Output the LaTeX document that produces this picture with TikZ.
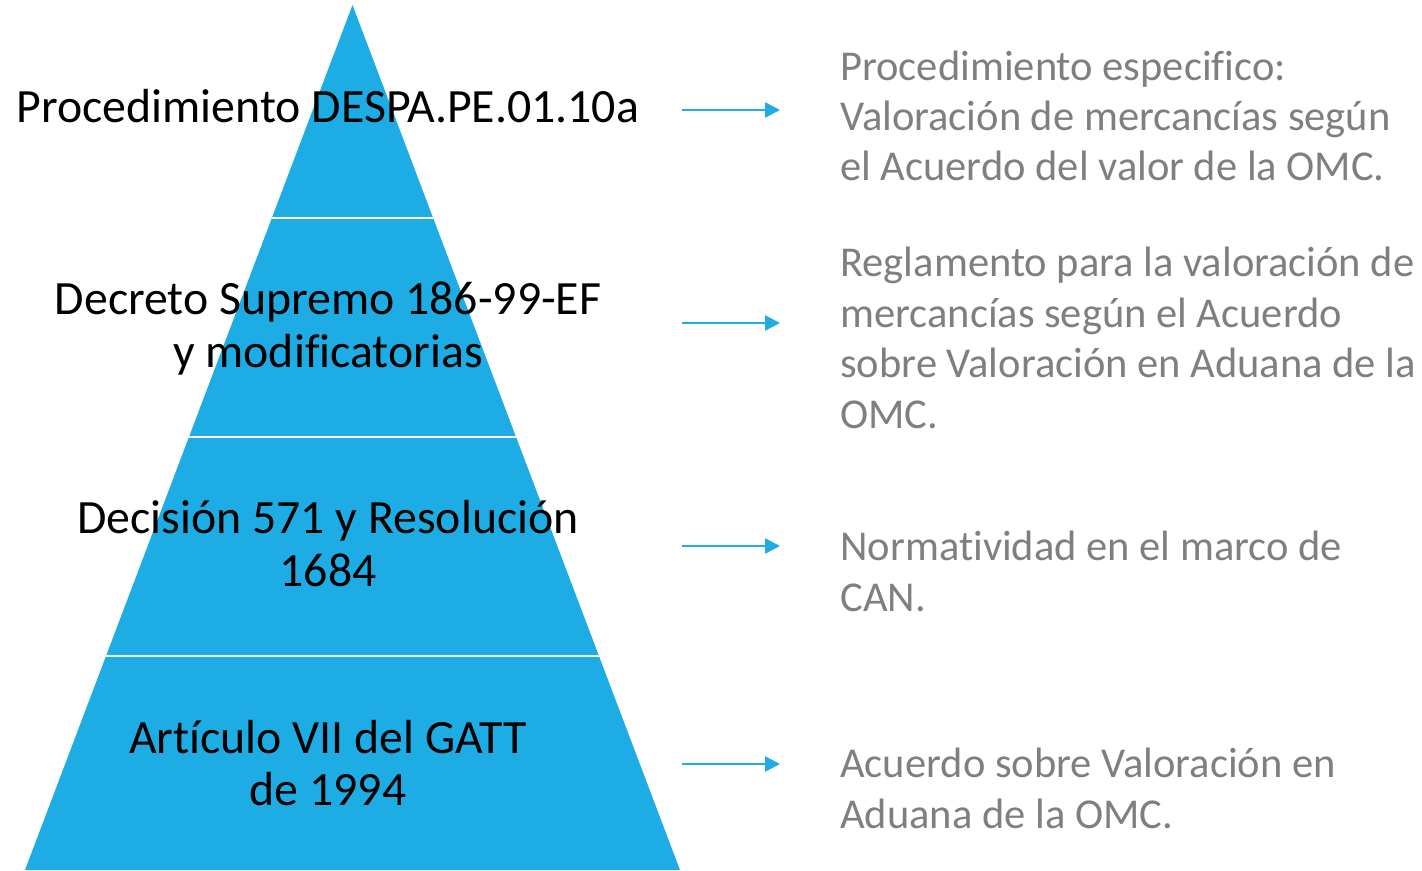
\documentclass[tikz,border=0pt]{standalone}
\usepackage{fontspec}
\setmainfont{Carlito}[Ligatures=NoCommon]
\usetikzlibrary{arrows.meta}
\definecolor{pyrblue}{RGB}{29,172,227}
\definecolor{notegray}{RGB}{127,127,127}
\begin{document}
\begin{tikzpicture}[x=0.02cm,y=-0.02cm,
    level/.style={anchor=base,align=center,inner sep=0pt,text=black,
      font=\fontsize{27.2}{29.6}\selectfont},
    note/.style={anchor=base west,align=left,inner sep=0pt,text=notegray,
      font=\fontsize{24.2}{28.7}\selectfont},
    link/.style={pyrblue,line width=1.4pt,-{Triangle[length=8.5pt,width=8.5pt]}}]
  \useasboundingbox (0,0) rectangle (1422,871);

  % pyramid and its bands
  \fill[pyrblue] (352.5,5) -- (680,870) -- (25,870) -- cycle;
  \begin{scope}
    \clip (352.5,5) -- (680,870) -- (25,870) -- cycle;
    \draw[white,line width=1.4pt] (0,218) -- (700,218);
    \draw[white,line width=1.4pt] (0,437) -- (700,437);
    \draw[white,line width=1.4pt] (0,656) -- (700,656);
  \end{scope}

  % levels (anchored at the baseline of the last line)
  \node[level] (l1) at (328,123) {Procedimiento DESPA.PE.01.10a};
  \node[level] (l2) at (328,367) {Decreto Supremo 186-99-EF\\y modificatorias};
  \node[level] (l3) at (328,586) {Decisión 571 y Resolución\\1684};
  \node[level] (l4) at (328,805) {Artículo VII del GATT\\de 1994};

  % notes
  \node[note] (n1) at (840,181) {Procedimiento especifico:\\Valoración de mercancías según\\el Acuerdo del valor de la OMC.};
  \node[note] (n2) at (840,428) {Reglamento para la valoración de\\mercancías según el Acuerdo\\sobre Valoración en Aduana de la\\OMC.};
  \node[note] (n3) at (840,611) {Normatividad en el marco de\\CAN.};
  \node[note] (n4) at (840,828) {Acuerdo sobre Valoración en\\Aduana de la OMC.};

  % arrows
  \coordinate (a1) at (682,110);  \coordinate (b1) at (780,110);
  \coordinate (a2) at (682,323);  \coordinate (b2) at (780,323);
  \coordinate (a3) at (682,546);  \coordinate (b3) at (780,546);
  \coordinate (a4) at (682,764);  \coordinate (b4) at (780,764);
  \draw[link] (a1) -- (b1);
  \draw[link] (a2) -- (b2);
  \draw[link] (a3) -- (b3);
  \draw[link] (a4) -- (b4);
\end{tikzpicture}
\end{document}
